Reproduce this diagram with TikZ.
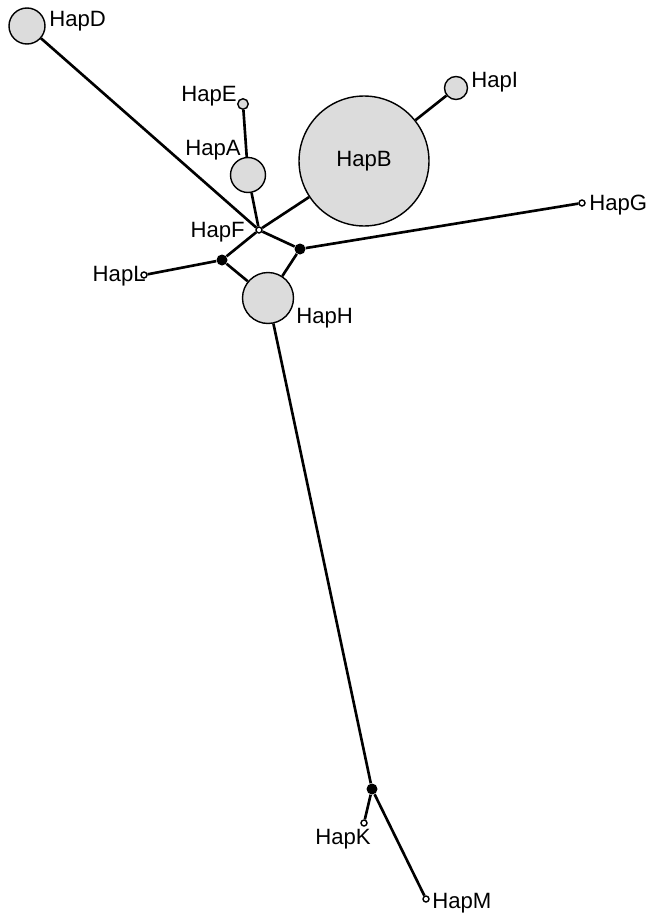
\documentclass[tikz,border=0pt]{standalone}
\usepackage{fontspec}
\setmainfont{Liberation Sans}
\usetikzlibrary{positioning}
\definecolor{hapgray}{RGB}{220,220,220}
\tikzset{
  hap/.style={circle,draw,line width=.8pt,fill=hapgray,inner sep=0pt,minimum size=#1},
  tip/.style={circle,draw,line width=.8pt,fill=white,inner sep=0pt,minimum size=.12cm},
  mv/.style={circle,fill=black,inner sep=0pt,minimum size=.22cm},
  link/.style={line width=1.5pt},
  lbl/.style={inner sep=0pt}
}

\begin{document}
\begin{tikzpicture}[x=0.02cm,y=-0.02cm,font=\fontsize{12.6}{14}\selectfont]
\useasboundingbox (0,0) rectangle (651,916);
% haplotypes
\node[hap=.72cm] (D) at (27,26) {};
\node[hap=.21cm] (E) at (243,104) {};
\node[hap=.7cm] (A) at (248,175) {};
\node[hap=2.6cm] (B) at (364,161) {HapB};
\node[hap=.46cm] (I) at (456,88) {};
\node[hap=1.02cm] (H) at (268,298) {};
\node[tip] (F) at (259,230) {};
\node[tip] (L) at (144,275) {};
\node[tip] (G) at (582,203) {};
\node[tip] (K) at (364,823) {};
\node[tip] (M) at (426,899) {};
% median vectors
\node[mv] (m1) at (300,249) {};
\node[mv] (m2) at (222,260) {};
\node[mv] (m3) at (372,789) {};
% links
\draw[link] (D) -- (F);
\draw[link] (E) -- (A);
\draw[link] (A) -- (F);
\draw[link] (I) -- (B);
\draw[link] (B) -- (F);
\draw[link] (F) -- (m1);
\draw[link] (F) -- (m2);
\draw[link] (m1) -- (G);
\draw[link] (m1) -- (H);
\draw[link] (m2) -- (L);
\draw[link] (m2) -- (H);
\draw[link] (H) -- (m3);
\draw[link] (m3) -- (K);
\draw[link] (m3) -- (M);
% names
\node[lbl,anchor=west] (tD) at (49,21) {HapD};
\node[lbl,anchor=east] (tE) at (237,96) {HapE};
\node[lbl,anchor=east] (tA) at (241,150) {HapA};
\node[lbl,anchor=east] (tF) at (245,232) {HapF};
\node[lbl,anchor=east] (tL) at (146,276) {HapL};
\node[lbl,anchor=west] (tH) at (296,318) {HapH};
\node[lbl,anchor=west] (tI) at (471,82) {HapI};
\node[lbl,anchor=west] (tG) at (589,205) {HapG};
\node[lbl] (tK) at (343,839) {HapK};
\node[lbl,anchor=west] (tM) at (432,903) {HapM};
\end{tikzpicture}
\end{document}
